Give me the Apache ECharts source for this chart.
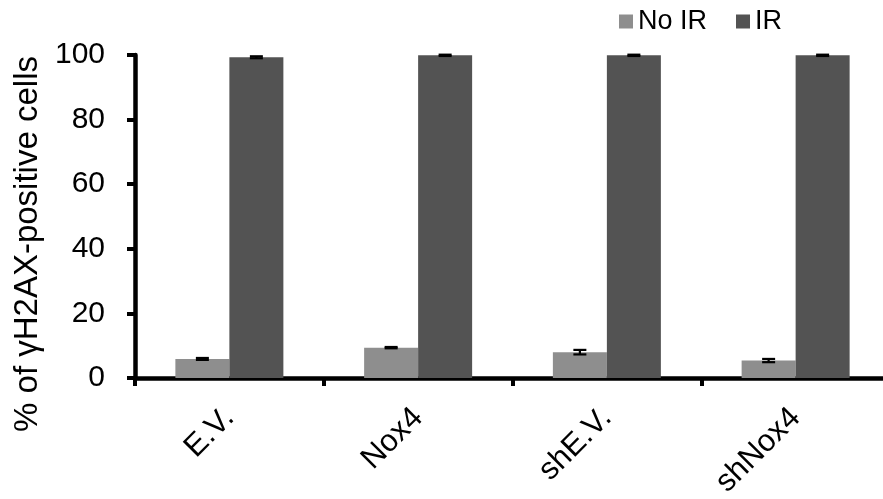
<!DOCTYPE html>
<html>
<head>
<meta charset="utf-8">
<script src="https://cdn.jsdelivr.net/npm/echarts@6/dist/echarts.min.js"></script>
<style>
  html, body { margin: 0; padding: 0; background: #fff; }
  #chart { width: 883px; height: 499px; }
</style>
</head>
<body>
<div id="chart"></div>
<script>
// Groups along the x axis
const categories = ['E.V.', 'Nox4', 'shE.V.', 'shNox4'];
// Percent of γH2AX-positive cells per group
const noIR = [5.9, 9.4, 8.0, 5.4];
const ir = [99.3, 99.9, 99.9, 99.9];
// Error bar half-lengths
const noIRErr = [0.3, 0.2, 0.7, 0.5];
const irErr = [0.3, 0.2, 0.2, 0.2];
// Y axis ticks
const yTicks = [0, 20, 40, 60, 80, 100];

const FONT = 'Liberation Sans, Arial, sans-serif';
const BAR_W = 54;

function errorSeries(values, errs, offset) {
  return {
    type: 'custom',
    z: 10,
    silent: true,
    data: values.map((v, i) => [i, v, errs[i]]),
    renderItem: function (params, api) {
      const i = api.value(0), v = api.value(1), e = api.value(2);
      const hi = api.coord([i, v + e]);
      const lo = api.coord([i, v - e]);
      const x = hi[0] + offset;
      const cap = 6.5;
      const style = { stroke: '#000', lineWidth: 2.2 };
      return {
        type: 'group',
        children: [
          { type: 'line', shape: { x1: x, y1: hi[1], x2: x, y2: lo[1] }, style: style },
          { type: 'line', shape: { x1: x - cap, y1: hi[1], x2: x + cap, y2: hi[1] }, style: style },
          { type: 'line', shape: { x1: x - cap, y1: lo[1], x2: x + cap, y2: lo[1] }, style: style }
        ]
      };
    }
  };
}

const chart = echarts.init(document.getElementById('chart'));
chart.setOption({
  animation: false,
  textStyle: { fontFamily: FONT },
  legend: {
    top: 8,
    left: 619,
    padding: 0,
    itemWidth: 14,
    itemHeight: 14,
    itemGap: 29,
    icon: 'rect',
    textStyle: { fontSize: 27, color: '#000', fontFamily: FONT },
    data: ['No IR', 'IR']
  },
  grid: {
    left: 135, width: 755, top: 55, bottom: 121,
    containLabel: false,
    outerBoundsMode: 'none'
  },
  xAxis: {
    type: 'category',
    data: categories,
    axisLine: { lineStyle: { color: '#000', width: 4.5 } },
    axisTick: { show: true, length: 8, lineStyle: { color: '#000', width: 4 } },
    axisLabel: {
      rotate: 45,
      margin: 35,
      fontSize: 31,
      color: '#000',
      fontFamily: FONT
    }
  },
  yAxis: {
    type: 'value',
    min: yTicks[0],
    max: yTicks[yTicks.length - 1],
    interval: 20,
    name: '% of γH2AX-positive cells',
    nameLocation: 'middle',
    nameGap: 79,
    nameTextStyle: { fontSize: 33, color: '#000', fontFamily: FONT, padding: [0, 55, 0, 0] },
    splitLine: { show: false },
    axisLine: { show: true, lineStyle: { color: '#000', width: 4.5 } },
    axisTick: { show: true, length: 8, lineStyle: { color: '#000', width: 4 } },
    axisLabel: { fontSize: 30, color: '#000', margin: 30, fontFamily: FONT }
  },
  series: [
    {
      name: 'No IR',
      type: 'bar',
      barWidth: BAR_W,
      barGap: '0%',
      itemStyle: { color: '#8e8e8e' },
      data: noIR
    },
    {
      name: 'IR',
      type: 'bar',
      barWidth: BAR_W,
      barGap: '0%',
      itemStyle: { color: '#535353' },
      data: ir
    },
    errorSeries(noIR, noIRErr, -BAR_W / 2),
    errorSeries(ir, irErr, BAR_W / 2)
  ]
});
</script>
</body>
</html>
